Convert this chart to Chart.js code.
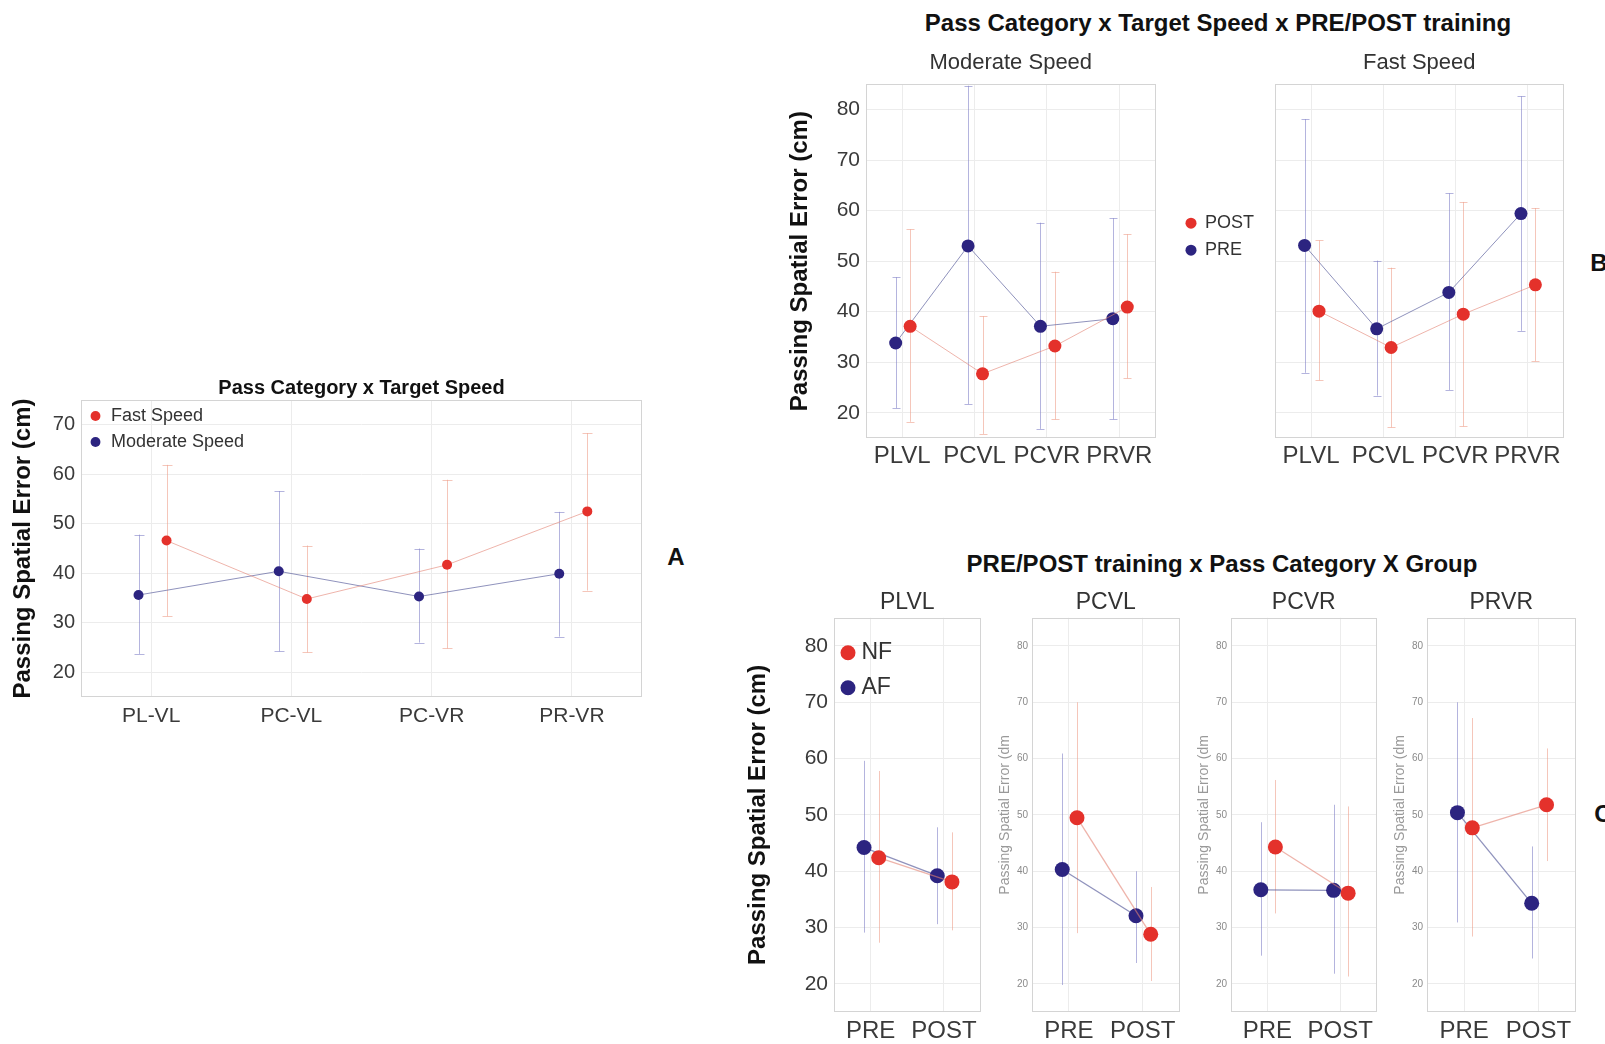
<!DOCTYPE html>
<html>
<head>
<meta charset="utf-8">
<script src="https://cdn.jsdelivr.net/npm/chart.js@4.4.0/dist/chart.umd.min.js"></script>
<style>
body{margin:0;background:#fff;width:1605px;height:1044px;overflow:hidden;position:relative;font-family:"Liberation Sans",Arial,sans-serif}
canvas{position:absolute}
.t{position:absolute;font-weight:bold;color:#111;white-space:nowrap;transform:translate(-50%,-50%)}
</style>
</head>
<body>
<div class="t" style="left:1218px;top:23px;font-size:24px">Pass Category x Target Speed x PRE/POST training</div>
<div class="t" style="left:1222px;top:564px;font-size:24px">PRE/POST training x Pass Category X Group</div>
<div class="t" style="left:676px;top:557px;font-size:24px">A</div>
<div class="t" style="left:1599px;top:263px;font-size:24px">B</div>
<div class="t" style="left:1603px;top:814px;font-size:24px">C</div>
<canvas id="cA"></canvas>
<canvas id="cBmod"></canvas>
<canvas id="cBfast"></canvas>
<canvas id="cC1"></canvas>
<canvas id="cC2"></canvas>
<canvas id="cC3"></canvas>
<canvas id="cC4"></canvas>
<script>
// categories and ticks
const catA = ['PL-VL', 'PC-VL', 'PC-VR', 'PR-VR'];
const catB = ['PLVL', 'PCVL', 'PCVR', 'PRVR'];
const catC = ['PRE', 'POST'];
const ticksA = [20, 30, 40, 50, 60, 70];
const ticksBC = [20, 30, 40, 50, 60, 70, 80];

// A: Pass Category x Target Speed
const aFast = [46.6, 34.8, 41.7, 52.5];
const aFastLo = [31.3, 24.0, 24.8, 36.5];
const aFastHi = [61.9, 45.6, 58.9, 68.3];
const aMod = [35.6, 40.4, 35.3, 39.9];
const aModLo = [23.7, 24.2, 26.0, 27.2];
const aModHi = [47.8, 56.6, 45.0, 52.4];

// B: moderate speed
const bModPost = [37.1, 27.7, 33.2, 40.9];
const bModPostLo = [18.2, 15.8, 18.7, 26.8];
const bModPostHi = [56.3, 39.1, 47.9, 55.3];
const bModPre = [33.8, 53.0, 37.1, 38.6];
const bModPreLo = [20.9, 21.7, 16.8, 18.7];
const bModPreHi = [46.8, 84.7, 57.6, 58.5];
// B: fast speed
const bFastPost = [40.1, 32.9, 39.5, 45.3];
const bFastPostLo = [26.4, 17.1, 17.3, 30.2];
const bFastPostHi = [54.1, 48.7, 61.7, 60.5];
const bFastPre = [53.1, 36.6, 43.8, 59.4];
const bFastPreLo = [27.9, 23.4, 24.5, 36.2];
const bFastPreHi = [78.1, 50.1, 63.4, 82.6];

// C: PRE/POST x group, one set of arrays per pass category
const cPlvlNF = [42.4, 38.1], cPlvlNFLo = [27.3, 29.5], cPlvlNFHi = [57.8, 46.9];
const cPlvlAF = [44.2, 39.2], cPlvlAFLo = [29.1, 30.6], cPlvlAFHi = [59.6, 47.8];
const cPcvlNF = [49.5, 28.8], cPcvlNFLo = [29.0, 20.5], cPcvlNFHi = [70.0, 37.2];
const cPcvlAF = [40.3, 32.1], cPcvlAFLo = [19.8, 23.7], cPcvlAFHi = [60.9, 40.0];
const cPcvrNF = [44.3, 36.1], cPcvrNFLo = [32.5, 21.3], cPcvrNFHi = [56.2, 51.5];
const cPcvrAF = [36.7, 36.6], cPcvrAFLo = [25.0, 21.8], cPcvrAFHi = [48.7, 51.8];
const cPrvrNF = [47.7, 51.8], cPrvrNFLo = [28.4, 41.8], cPrvrNFHi = [67.2, 61.8];
const cPrvrAF = [50.4, 34.3], cPrvrAFLo = [30.9, 24.5], cPrvrAFHi = [70.0, 44.4];

Chart.defaults.font.family = '"Liberation Sans", Arial, sans-serif';

const RED = '#e4312b', BLUE = '#2c2480';
const redStyle = { dot: RED, line: 'rgba(226,130,115,0.6)', err: 'rgba(238,160,140,0.6)', dx: 0.11 };
const blueStyle = { dot: BLUE, line: 'rgba(95,100,160,0.7)', err: 'rgba(130,130,200,0.6)', dx: -0.09 };

const errorBars = {
  id: 'errorBars',
  beforeDatasetsDraw(chart, args, opts) {
    const ctx = chart.ctx, y = chart.scales.y;
    chart.data.datasets.forEach((ds, i) => {
      const meta = chart.getDatasetMeta(i);
      ctx.save();
      ctx.strokeStyle = ds.errColor;
      ctx.lineWidth = 1;
      meta.data.forEach((pt, j) => {
        const lo = y.getPixelForValue(ds.lo[j]);
        const hi = y.getPixelForValue(ds.hi[j]);
        const x = Math.round(pt.x) + 0.5;
        ctx.beginPath();
        ctx.moveTo(x, lo);
        ctx.lineTo(x, hi);
        if (opts.cap) {
          ctx.moveTo(x - opts.cap, Math.round(lo) + 0.5);
          ctx.lineTo(x + opts.cap, Math.round(lo) + 0.5);
          ctx.moveTo(x - opts.cap, Math.round(hi) + 0.5);
          ctx.lineTo(x + opts.cap, Math.round(hi) + 0.5);
        }
        ctx.stroke();
      });
      ctx.restore();
    });
  }
};

const frame = {
  id: 'frame',
  beforeDatasetsDraw(chart) {
    const a = chart.chartArea, ctx = chart.ctx;
    ctx.save();
    ctx.strokeStyle = '#d4d4d4';
    ctx.lineWidth = 1;
    ctx.strokeRect(Math.round(a.left) + 0.5, Math.round(a.top) + 0.5, Math.round(a.right - a.left) - 1, Math.round(a.bottom - a.top) - 1);
    ctx.restore();
  }
};

function series(label, values, lo, hi, st) {
  return { label: label, values: values, lo: lo, hi: hi, st: st };
}

function panel(id, box, o) {
  const cv = document.getElementById(id);
  const L = box[0] - o.yw, T = box[1] - o.th;
  cv.width = box[2] - L + o.pr;
  cv.height = box[3] - T + o.xh;
  cv.style.left = L + 'px';
  cv.style.top = T + 'px';
  const cats = o.cats;
  return new Chart(cv, {
    type: 'line',
    data: {
      datasets: o.series.map(s => ({
        label: s.label,
        data: s.values.map((v, i) => ({ x: i + 1 + s.st.dx, y: v })),
        lo: s.lo,
        hi: s.hi,
        errColor: s.st.err,
        borderColor: s.st.line,
        borderWidth: o.lw,
        pointRadius: o.r,
        pointHoverRadius: o.r,
        pointBackgroundColor: s.st.dot,
        pointBorderColor: s.st.dot,
        pointBorderWidth: 0,
        tension: 0
      }))
    },
    options: {
      responsive: false,
      animation: false,
      events: [],
      layout: { padding: { right: o.pr, left: 0, top: 0, bottom: 0 } },
      scales: {
        x: {
          type: 'linear',
          min: 0.5,
          max: cats.length + 0.5,
          afterBuildTicks: s => { s.ticks = cats.map((c, i) => ({ value: i + 1 })); },
          afterFit: s => { s.height = o.xh; },
          grid: { color: '#ececec', drawTicks: false },
          border: { display: false },
          ticks: {
            autoSkip: false,
            maxRotation: 0,
            padding: o.xpad,
            color: '#3a3a3a',
            font: { size: o.xf },
            callback: v => cats[Math.round(v) - 1]
          }
        },
        y: {
          min: 15,
          max: o.ymax,
          afterBuildTicks: s => { s.ticks = o.yticks.map(v => ({ value: v })); },
          afterFit: s => {
            const lg = o.legendLeft && s.chart.legend ? s.chart.legend.width : 0;
            s.width = o.yw - lg;
          },
          grid: { color: '#ececec', drawTicks: false },
          border: { display: false },
          ticks: { display: o.ytf > 0, padding: o.ytp || 6, color: o.ytc || '#3a3a3a', font: { size: o.ytf || 10 } },
          title: {
            display: !!o.ytitle,
            text: o.ytitle,
            color: o.ytitleColor || '#111',
            font: { size: o.ytitleSize, weight: o.ytitleWeight || 'bold' },
            padding: { top: o.ytitlePad, bottom: 0 }
          }
        }
      },
      plugins: {
        tooltip: { enabled: false },
        title: {
          display: true,
          text: o.title,
          fullSize: false,
          color: o.titleColor,
          font: { size: o.titleSize, weight: o.titleWeight },
          padding: { top: 0, bottom: o.titlePad }
        },
        legend: o.legend ? Object.assign({ display: true, align: 'start', fullSize: false }, o.legend) : { display: false },
        errorBars: { cap: o.cap }
      }
    },
    plugins: [errorBars, frame]
  });
}

// Panel A
panel('cA', [81, 400, 642, 697], {
  cats: catA, yticks: ticksA, ymax: 75,
  yw: 81, th: 24, xh: 33, pr: 18,
  xf: 21, xpad: 7, ytf: 20,
  ytitle: 'Passing Spatial Error (cm)', ytitleSize: 24, ytitlePad: 8.6,
  title: 'Pass Category x Target Speed', titleSize: 20, titleWeight: 'bold', titleColor: '#111', titlePad: 0,
  r: 5, lw: 1, cap: 5,
  legend: {
    position: 'chartArea',
    title: { display: true, text: '', font: { size: 1 }, padding: { top: 21.8, bottom: 0 } },
    labels: { usePointStyle: true, boxWidth: 13, boxHeight: 7, padding: 8, color: '#333', font: { size: 18 } }
  },
  series: [
    series('Fast Speed', aFast, aFastLo, aFastHi, redStyle),
    series('Moderate Speed', aMod, aModLo, aModHi, blueStyle)
  ]
});

// Panel B
panel('cBmod', [866, 84, 1157, 438], {
  cats: catB, yticks: ticksBC, ymax: 85,
  yw: 90, th: 34.2, xh: 40, pr: 5,
  xf: 24, xpad: 4, ytf: 21,
  ytitle: 'Passing Spatial Error (cm)', ytitleSize: 24, ytitlePad: 9.6,
  title: 'Moderate Speed', titleSize: 22, titleWeight: 'normal', titleColor: '#333', titlePad: 7.8,
  r: 6.5, lw: 1, cap: 4,
  series: [
    series('POST', bModPost, bModPostLo, bModPostHi, redStyle),
    series('PRE', bModPre, bModPreLo, bModPreHi, blueStyle)
  ]
});

panel('cBfast', [1275, 84, 1566, 438], {
  cats: catB, yticks: ticksBC, ymax: 85,
  yw: 98, th: 34.2, xh: 40, pr: 4,
  xf: 24, xpad: 4, ytf: 0, legendLeft: true,
  title: 'Fast Speed', titleSize: 22, titleWeight: 'normal', titleColor: '#333', titlePad: 7.8,
  r: 6.5, lw: 1, cap: 4,
  legend: {
    position: 'left',
    title: { display: true, text: '', font: { size: 1 }, padding: { top: 119.8, bottom: 0 } },
    labels: { usePointStyle: true, boxWidth: 10, boxHeight: 7.8, padding: 9, color: '#333', font: { size: 18 } }
  },
  series: [
    series('POST', bFastPost, bFastPostLo, bFastPostHi, redStyle),
    series('PRE', bFastPre, bFastPreLo, bFastPreHi, blueStyle)
  ]
});

// Panel C
const cCommon = { cats: catC, yticks: ticksBC, ymax: 85, th: 28.8, xh: 31, pr: 4, xf: 24, xpad: 4.6,
  titleSize: 23, titleWeight: 'normal', titleColor: '#333', titlePad: 1.2, r: 7.5, lw: 1.3, cap: 0 };

panel('cC1', [834, 618, 984, 1013], Object.assign({}, cCommon, {
  yw: 96, ytf: 21,
  ytitle: 'Passing Spatial Error (cm)', ytitleSize: 24, ytitlePad: 5.6,
  title: 'PLVL',
  legend: {
    position: 'chartArea',
    title: { display: true, text: '', font: { size: 1 }, padding: { top: 39.1, bottom: 0 } },
    labels: { usePointStyle: true, boxWidth: 4, boxHeight: 10.6, padding: 12, color: '#333', font: { size: 23 } }
  },
  series: [
    series('NF', cPlvlNF, cPlvlNFLo, cPlvlNFHi, redStyle),
    series('AF', cPlvlAF, cPlvlAFLo, cPlvlAFHi, blueStyle)
  ]
}));

const smallY = { yw: 38, ytf: 10, ytp: 4, ytc: '#8a8a8a',
  ytitle: 'Passing Spatial Error (dm', ytitleSize: 14, ytitleWeight: 'normal', ytitleColor: '#999', ytitlePad: 2.6 };

panel('cC2', [1032, 618, 1183, 1013], Object.assign({}, cCommon, smallY, {
  title: 'PCVL',
  series: [
    series('NF', cPcvlNF, cPcvlNFLo, cPcvlNFHi, redStyle),
    series('AF', cPcvlAF, cPcvlAFLo, cPcvlAFHi, blueStyle)
  ]
}));

panel('cC3', [1231, 618, 1380, 1013], Object.assign({}, cCommon, smallY, {
  title: 'PCVR',
  series: [
    series('NF', cPcvrNF, cPcvrNFLo, cPcvrNFHi, redStyle),
    series('AF', cPcvrAF, cPcvrAFLo, cPcvrAFHi, blueStyle)
  ]
}));

panel('cC4', [1427, 618, 1579, 1013], Object.assign({}, cCommon, smallY, {
  title: 'PRVR',
  series: [
    series('NF', cPrvrNF, cPrvrNFLo, cPrvrNFHi, redStyle),
    series('AF', cPrvrAF, cPrvrAFLo, cPrvrAFHi, blueStyle)
  ]
}));
</script>
</body>
</html>
